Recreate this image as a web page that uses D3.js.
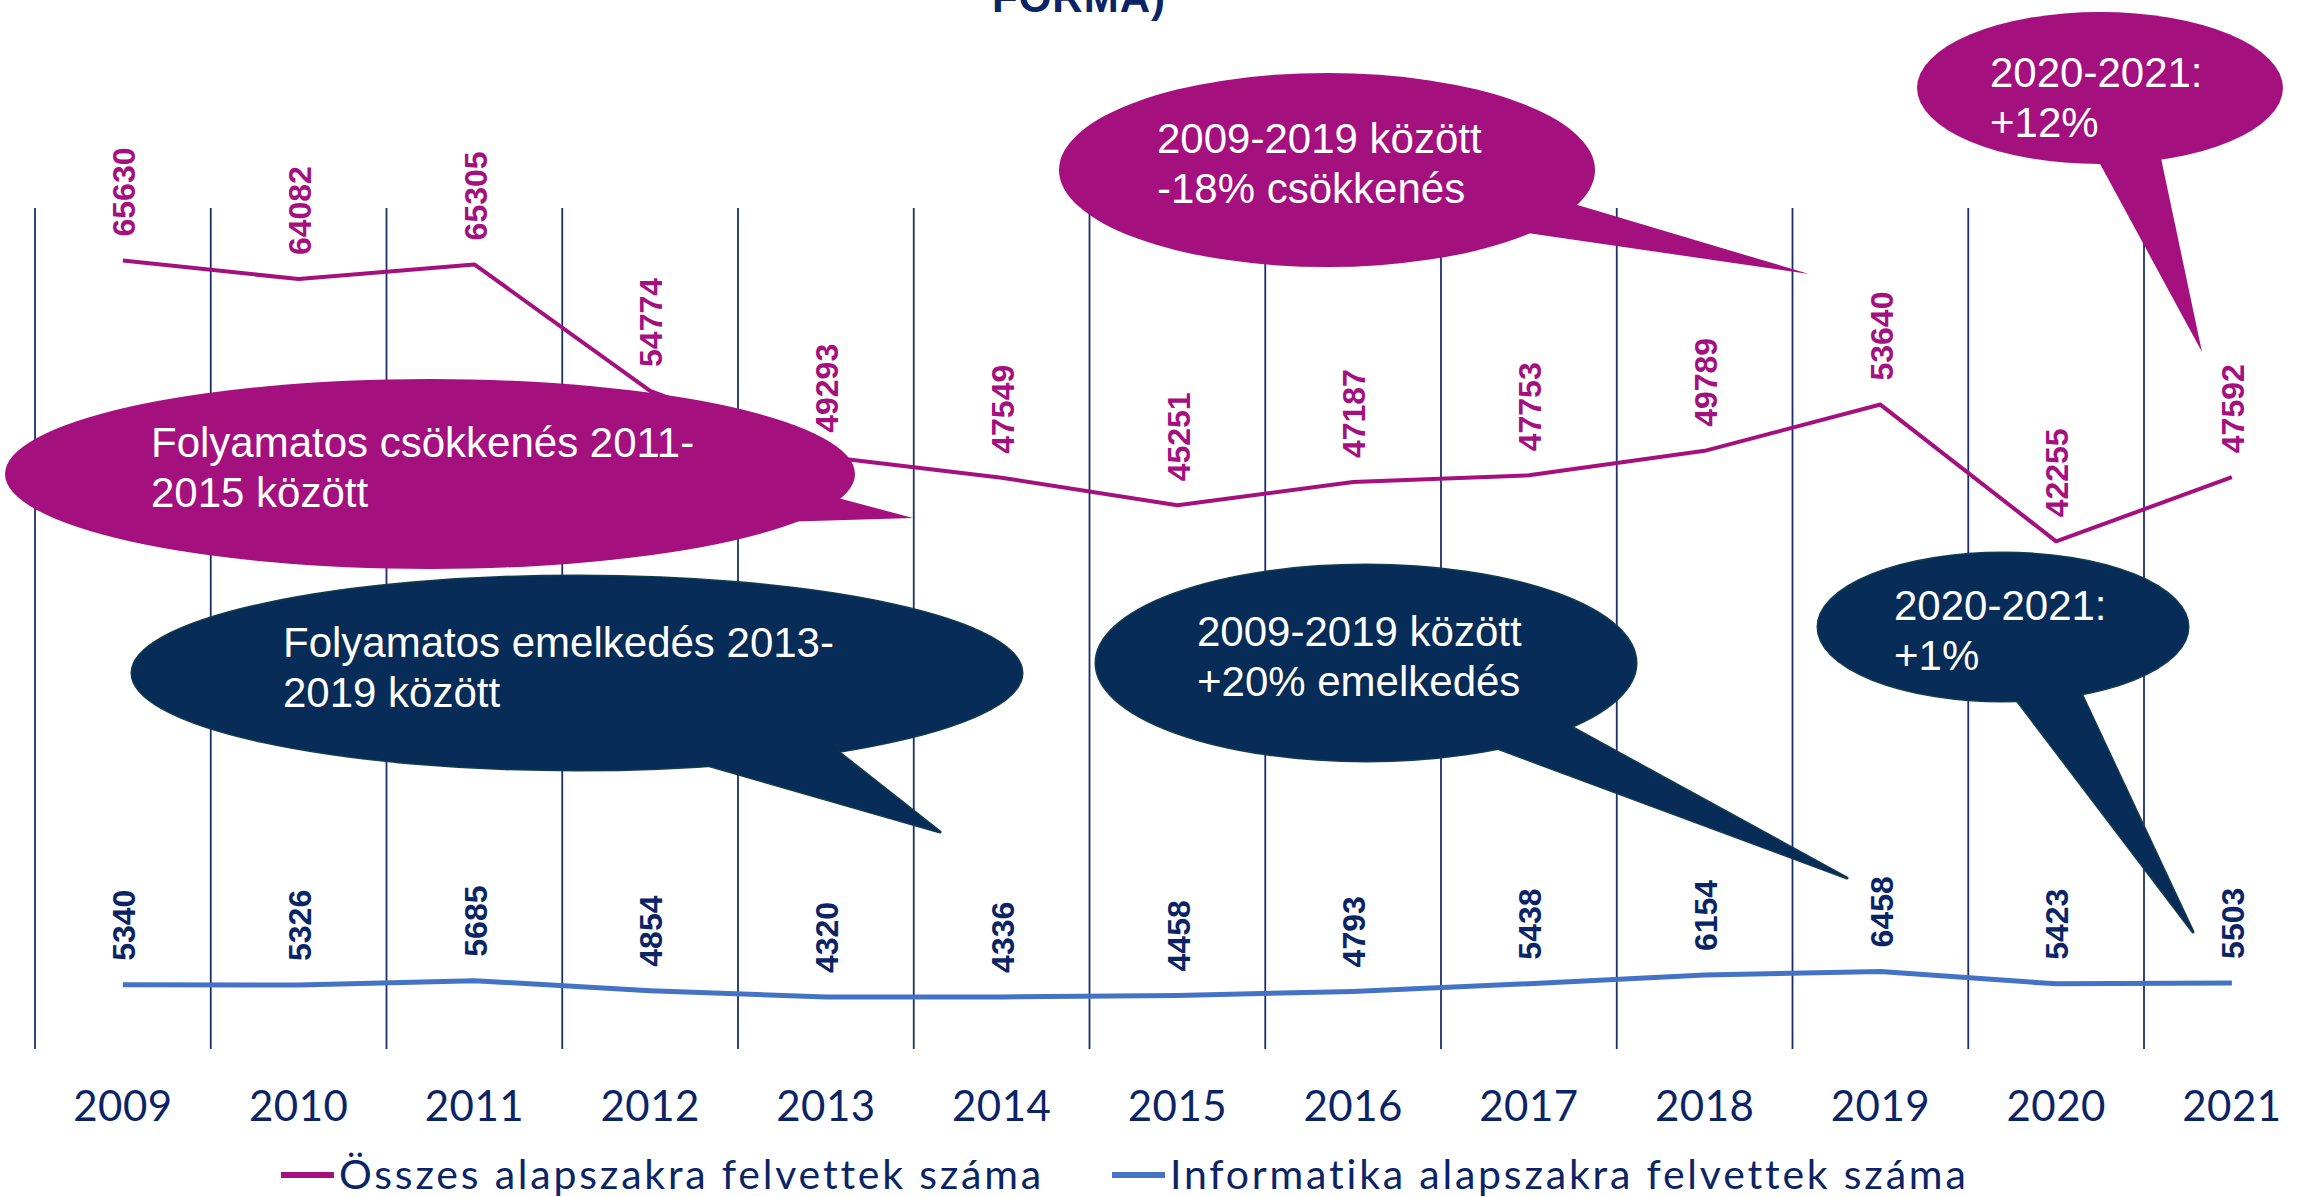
<!DOCTYPE html>
<html>
<head>
<meta charset="utf-8">
<script src="https://cdn.jsdelivr.net/npm/d3@7"></script>
<style>
  body { margin: 0; background: #fff; }
  svg { display: block; }
</style>
</head>
<body>
<svg id="chart" width="2300" height="1197"></svg>
<script>
// data
var years = ["2009", "2010", "2011", "2012", "2013", "2014", "2015", "2016", "2017", "2018", "2019", "2020", "2021"];
var totalAdmitted = [65630, 64082, 65305, 54774, 49293, 47549, 45251, 47187, 47753, 49789, 53640, 42255, 47592];
var itAdmitted = [5340, 5326, 5685, 4854, 4320, 4336, 4458, 4793, 5438, 6154, 6458, 5423, 5503];
var seriesNames = ["Összes alapszakra felvettek száma", "Informatika alapszakra felvettek száma"];
var titleTail = "FORMA)";
var calloutTexts = [
  ["Folyamatos csökkenés 2011-", "2015 között"],
  ["Folyamatos emelkedés 2013-", "2019 között"],
  ["2009-2019 között", "-18% csökkenés"],
  ["2020-2021:", "+12%"],
  ["2009-2019 között", "+20% emelkedés"],
  ["2020-2021:", "+1%"]
];

var purple = "#a5107f";
var blue = "#4472c4";
var navy = "#0b2466";
var bubbleNavy = "#072c57";

var svg = d3.select("#chart");

// plot area (right edge runs past the window, as in the original)
var plotLeft = 35, bandW = 175.75;
var plotTop = 208, plotBottom = 1049;

var x = d3.scaleBand()
  .domain(years)
  .range([plotLeft, plotLeft + bandW * years.length])
  .paddingInner(0).paddingOuter(0);

var y = d3.scaleLinear()
  .domain([0, 70000])
  .range([plotBottom, plotTop]);

var cx = function(d){ return x(d) + x.bandwidth() / 2; };

// title, only its last word is still on the page
svg.append("text")
  .attr("x", 1079).attr("y", 12)
  .attr("text-anchor", "middle")
  .attr("font-family", "Liberation Sans, Arial, sans-serif")
  .attr("font-weight", "bold")
  .attr("font-size", 42)
  .attr("letter-spacing", 1)
  .attr("fill", navy)
  .text(titleTail);

// vertical grid lines on category borders
svg.append("g").selectAll("line")
  .data(years)
  .enter().append("line")
  .attr("x1", function(d){ return x(d); })
  .attr("x2", function(d){ return x(d); })
  .attr("y1", plotTop).attr("y2", plotBottom)
  .attr("stroke", "#1b2f6b")
  .attr("stroke-width", 1.8);

// category axis
var xAxis = svg.append("g")
  .attr("transform", "translate(0," + plotBottom + ")")
  .call(d3.axisBottom(x).tickSize(0).tickPadding(42));
xAxis.select(".domain").remove();
xAxis.selectAll("text")
  .attr("font-family", "Lato, 'Open Sans', sans-serif")
  .attr("font-size", 42)
  .attr("letter-spacing", 0.5)
  .attr("fill", navy);

// lines
var series = [
  { name: seriesNames[0], values: totalAdmitted, color: purple, width: 4, labelColor: purple },
  { name: seriesNames[1], values: itAdmitted, color: blue, width: 5, labelColor: navy }
];

var line = d3.line()
  .x(function(d, i){ return cx(years[i]); })
  .y(function(d){ return y(d); });

series.forEach(function(s){
  svg.append("path")
    .attr("d", line(s.values))
    .attr("fill", "none")
    .attr("stroke", s.color)
    .attr("stroke-width", s.width)
    .attr("stroke-linejoin", "round");

  svg.append("g").selectAll("text")
    .data(s.values)
    .enter().append("text")
    .attr("transform", function(d, i){
      return "translate(" + cx(years[i]) + "," + (y(d) - 24) + ") rotate(-90)";
    })
    .attr("dy", "0.38em")
    .attr("font-family", "Liberation Sans, Arial, sans-serif")
    .attr("font-weight", "bold")
    .attr("font-size", 32)
    .attr("fill", s.labelColor)
    .text(function(d){ return d; });
});

// legend
var legendX = [281, 1112];
series.forEach(function(s, i){
  let g = svg.append("g").attr("transform", "translate(" + legendX[i] + ",1175)");
  g.append("line")
    .attr("x1", 0).attr("x2", 53)
    .attr("stroke", s.color)
    .attr("stroke-width", 6);
  g.append("text")
    .attr("x", 58).attr("y", 14)
    .attr("font-family", "Lato, 'Open Sans', sans-serif")
    .attr("font-size", 41)
    .attr("letter-spacing", 2.8)
    .attr("fill", navy)
    .text(s.name);
});

// speech bubbles (layout only)
var bubbles = [
  { c: [430, 474], r: [425, 95], base: [[847, 493], [783, 527]], tip: [913, 518], fill: purple, text: [151, 457] },
  { c: [577, 673], r: [445, 97], base: [[850, 750], [697, 767]], tip: [940, 832], fill: bubbleNavy, text: [283, 657] },
  { c: [1327, 170], r: [268, 97], base: [[1582, 203], [1528, 236]], tip: [1809, 274], fill: purple, text: [1157, 153] },
  { c: [2100, 88], r: [183, 76], base: [[2096, 163], [2165, 158]], tip: [2202, 352], fill: purple, text: [1990, 87] },
  { c: [1366, 663], r: [270, 98], base: [[1579, 727], [1496, 751]], tip: [1847, 878], fill: bubbleNavy, text: [1197, 646] },
  { c: [2003, 627], r: [185, 74], base: [[2013, 700], [2085, 693]], tip: [2193, 932], fill: bubbleNavy, text: [1894, 620] }
];

var drawBubble = function(b, lines){
  let g = svg.append("g");
  // pull the tail base a little inside the ellipse
  let inner = b.base.map(function(p){
    return [p[0] + (b.c[0] - p[0]) * 0.08, p[1] + (b.c[1] - p[1]) * 0.08];
  });
  let tail = "M" + inner[0].join(",") + "L" + b.tip.join(",") + "L" + inner[1].join(",") + "Z";
  let outlined = b.fill === bubbleNavy;
  if (outlined) {
    g.append("ellipse")
      .attr("cx", b.c[0]).attr("cy", b.c[1]).attr("rx", b.r[0]).attr("ry", b.r[1])
      .attr("fill", "none").attr("stroke", "#123b4e").attr("stroke-width", 3);
    g.append("path").attr("d", tail)
      .attr("fill", "none").attr("stroke", "#123b4e").attr("stroke-width", 3)
      .attr("stroke-linejoin", "round");
  }
  g.append("ellipse")
    .attr("cx", b.c[0]).attr("cy", b.c[1]).attr("rx", b.r[0]).attr("ry", b.r[1])
    .attr("fill", b.fill);
  g.append("path").attr("d", tail).attr("fill", b.fill);
  g.selectAll("text")
    .data(lines)
    .enter().append("text")
    .attr("x", b.text[0])
    .attr("y", function(d, i){ return b.text[1] + i * 50; })
    .attr("font-family", "Liberation Sans, Arial, sans-serif")
    .attr("font-size", 42)
    .attr("fill", "#fff")
    .text(function(d){ return d; });
};

bubbles.forEach(function(b, i){ drawBubble(b, calloutTexts[i]); });
</script>
</body>
</html>
